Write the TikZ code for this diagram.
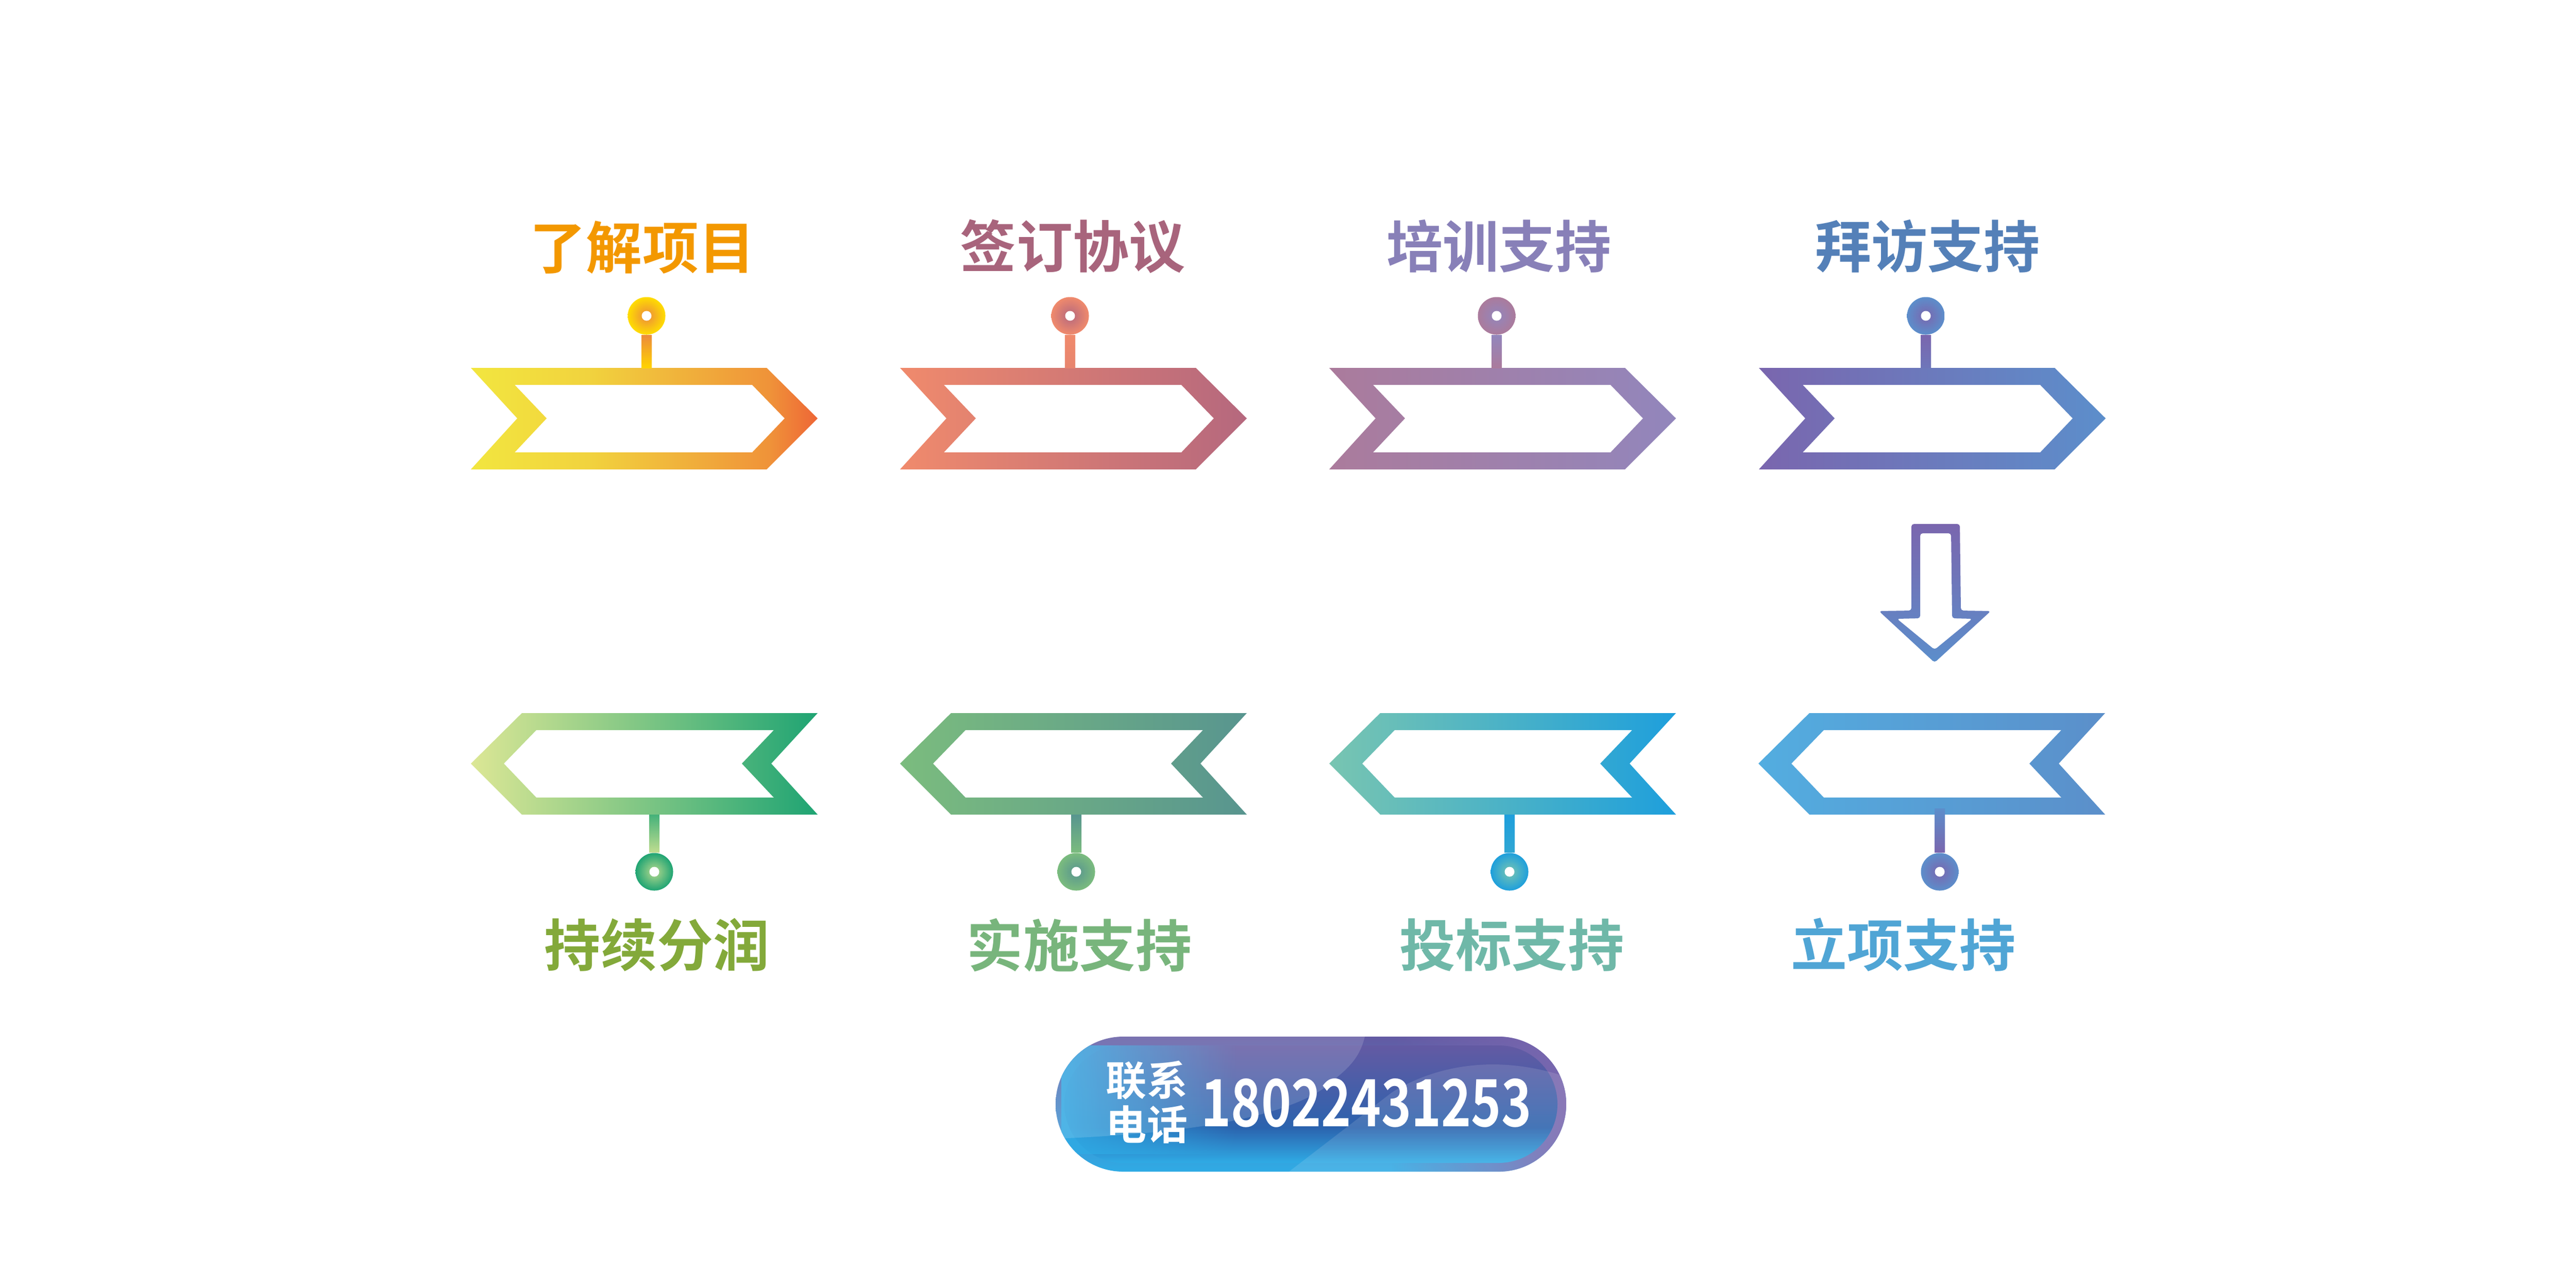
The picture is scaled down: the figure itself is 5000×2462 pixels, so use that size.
\documentclass[tikz,border=0pt]{standalone}
\usepackage{xcolor}
\usepackage{fontspec}
\usetikzlibrary{fadings}
\setmainfont{Noto Sans CJK SC Bold}
\definecolor{flagA}{HTML}{F2E63F}
\definecolor{flagB}{HTML}{EE6636}
\definecolor{flagC}{HTML}{F08A6C}
\definecolor{flagD}{HTML}{B5687E}
\definecolor{flagE}{HTML}{AB7B9C}
\definecolor{flagF}{HTML}{9286BC}
\definecolor{flagG}{HTML}{7A66AE}
\definecolor{flagH}{HTML}{5C8ECB}
\definecolor{flagI}{HTML}{DCE795}
\definecolor{flagJ}{HTML}{1FA473}
\definecolor{flagK}{HTML}{7BBC7E}
\definecolor{flagL}{HTML}{58958F}
\definecolor{flagM}{HTML}{78C5B1}
\definecolor{flagN}{HTML}{1E9FDC}
\definecolor{flagO}{HTML}{53ADE0}
\definecolor{flagP}{HTML}{5B8FCA}
\definecolor{pinyellow}{HTML}{FFDD00}
\definecolor{pinorange}{HTML}{EC8B3C}
\definecolor{pillblue}{HTML}{2FABE5}
\definecolor{pilldark}{HTML}{2B63AE}
\definecolor{pilltop}{HTML}{635AA3}
\pgfdeclarehorizontalshading{flagsun}{100bp}{color(0bp)=(flagA); color(25bp)=(flagA); color(42bp)=(flagA!85!flagB); color(55bp)=(flagA!60!flagB); color(68bp)=(flagA!35!flagB); color(75bp)=(flagB); color(100bp)=(flagB)}
\pgfdeclareverticalshading{pillinner}{100bp}{color(0bp)=(pillblue); color(25bp)=(pillblue); color(40bp)=(pilldark); color(50bp)=(pilldark!70!pilltop); color(75bp)=(pilltop); color(100bp)=(pilltop)}
\tikzset{
  flagfill/.style={even odd rule,shading angle=90},
  pindot/.style={circle,inner sep=0pt,minimum size=.73cm,shade},
  pinhole/.style={circle,inner sep=0pt,minimum size=.19cm,fill=white},
  titletext/.style={inner sep=0pt,font=\fontsize{31}{31}\selectfont}
}
% outline of a flag, x = left edge, y = top edge
\newcommand{\flagright}[2]{(#1,#2) -- (#1+574,#2) -- (#1+673,#2-98) -- (#1+574,#2-197) -- (#1,#2-197) -- (#1+90,#2-98) -- cycle
  (#1+85,#2-33) -- (#1+546,#2-33) -- (#1+609,#2-98) -- (#1+546,#2-164) -- (#1+85,#2-164) -- (#1+147,#2-98) -- cycle}
\newcommand{\flagleft}[2]{(#1+673,#2) -- (#1+99,#2) -- (#1,#2-98) -- (#1+99,#2-197) -- (#1+673,#2-197) -- (#1+583,#2-98) -- cycle
  (#1+588,#2-33) -- (#1+127,#2-33) -- (#1+64,#2-98) -- (#1+127,#2-164) -- (#1+588,#2-164) -- (#1+526,#2-98) -- cycle}
\begin{document}
\begin{tikzpicture}[x=0.01cm,y=0.01cm]
\useasboundingbox (0,0) rectangle (5000,-2462);
\fill [white] (0,0) rectangle (5000,-2462);
% top row
\shade [even odd rule,shading=flagsun] \flagright{914}{-714};
\shade [flagfill,left color=flagC,right color=flagD] \flagright{1747}{-714};
\shade [flagfill,left color=flagE,right color=flagF] \flagright{2580}{-714};
\shade [flagfill,left color=flagG,right color=flagH] \flagright{3414}{-714};
% bottom row
\shade [flagfill,left color=flagI,right color=flagJ] \flagleft{914}{-1384};
\shade [flagfill,left color=flagK,right color=flagL] \flagleft{1747}{-1384};
\shade [flagfill,left color=flagM,right color=flagN] \flagleft{2580}{-1384};
\shade [flagfill,left color=flagO,right color=flagP] \flagleft{3413}{-1384};
% pins
\node [pindot,inner color=pinorange,outer color=pinyellow] (pin1) at (1255,-613) {};
\node [pindot,inner color=flagD,outer color=flagC] (pin2) at (2077,-613) {};
\node [pindot,inner color=flagF,outer color=flagE] (pin3) at (2905,-613) {};
\node [pindot,inner color=flagG,outer color=flagH] (pin4) at (3738,-613) {};
\node [pindot,inner color=flagI!80!flagJ,outer color=flagJ] (pin5) at (1270,-1692) {};
\node [pindot,inner color=flagL,outer color=flagK] (pin6) at (2089,-1692) {};
\node [pindot,inner color=flagM,outer color=flagN] (pin7) at (2930,-1692) {};
\node [pindot,inner color=flagG,outer color=flagH] (pin8) at (3765,-1692) {};
\node [pinhole] (hole1) at (pin1) {};
\node [pinhole] (hole2) at (pin2) {};
\node [pinhole] (hole3) at (pin3) {};
\node [pinhole] (hole4) at (pin4) {};
\node [pinhole] (hole5) at (pin5) {};
\node [pinhole] (hole6) at (pin6) {};
\node [pinhole] (hole7) at (pin7) {};
\node [pinhole] (hole8) at (pin8) {};
\coordinate (foot1) at (1255,-714);
\coordinate (foot2) at (2077,-714);
\coordinate (foot3) at (2905,-714);
\coordinate (foot4) at (3738,-714);
\coordinate (foot5) at (1270,-1581);
\coordinate (foot6) at (2089,-1581);
\coordinate (foot7) at (2930,-1581);
\coordinate (foot8) at (3765,-1569);
\shade [top color=pinorange,bottom color=pinyellow!90!orange] ([xshift=-.1cm]pin1.south) rectangle ([xshift=.1cm]foot1);
\shade [top color=flagC,bottom color=flagC!85!flagD] ([xshift=-.1cm]pin2.south) rectangle ([xshift=.1cm]foot2);
\shade [top color=flagF,bottom color=flagE] ([xshift=-.1cm]pin3.south) rectangle ([xshift=.1cm]foot3);
\shade [top color=flagG,bottom color=flagG!60!flagH] ([xshift=-.1cm]pin4.south) rectangle ([xshift=.1cm]foot4);
\shade [top color=flagJ!80!flagI,bottom color=flagI!85!flagJ] ([xshift=.1cm]foot5) rectangle ([xshift=-.1cm]pin5.north);
\shade [top color=flagL,bottom color=flagK] ([xshift=.1cm]foot6) rectangle ([xshift=-.1cm]pin6.north);
\shade [top color=flagN,bottom color=flagN!80!flagM] ([xshift=.1cm]foot7) rectangle ([xshift=-.1cm]pin7.north);
\shade [top color=flagH,bottom color=flagG] ([xshift=.1cm]foot8) rectangle ([xshift=-.1cm]pin8.north);
% titles
\node [titletext,text={rgb,255:red,243;green,152;blue,0}] (title1) at (1247,-480) {了解项目};
\node [titletext,text={rgb,255:red,168;green,100;blue,124}] (title2) at (2082,-478) {签订协议};
\node [titletext,text={rgb,255:red,136;green,128;blue,184}] (title3) at (2909,-478) {培训支持};
\node [titletext,text={rgb,255:red,84;green,128;blue,184}] (title4) at (3741,-478) {拜访支持};
\node [titletext,text={rgb,255:red,131;green,169;blue,58}] (title5) at (1275,-1834) {持续分润};
\node [titletext,text={rgb,255:red,120;green,181;blue,124}] (title6) at (2095,-1834) {实施支持};
\node [titletext,text={rgb,255:red,111;green,184;blue,168}] (title7) at (2934,-1834) {投标支持};
\node [titletext,text={rgb,255:red,80;green,165;blue,213}] (title8) at (3694,-1834) {立项支持};
% arrow between the rows
\shade [even odd rule,top color=flagG,bottom color=flagH,rounded corners=.05cm]
  (3710,-1017) -- (3804,-1017) -- (3806,-1185) -- (3864,-1186) -- (3755,-1286) -- (3647,-1186) -- (3710,-1185) -- cycle
  (3727,-1035) -- (3787,-1035) -- (3789,-1200) -- (3828,-1201) -- (3755,-1261) -- (3682,-1201) -- (3727,-1200) -- cycle;
% phone pill
\begin{scope}
\clip (2180,-2012) -- (2909,-2012) arc (90:-90:131) -- (2180,-2274) arc (270:90:131) -- cycle;
\shade [top color=pilltop,bottom color=pillblue] (2049,-2012) rectangle (3040,-2274);
\fill [flagG,path fading=west] (2700,-2012) rectangle (3040,-2274);
\shade [shading=pillinner]
  (2180,-2029) -- (2909,-2029) arc (90:-90:114) -- (2180,-2257) arc (270:90:114) -- cycle;
\fill [pillblue,opacity=.9,path fading=east] (2060,-2029) rectangle (2400,-2240);
\fill [white,opacity=.15] (2049,-2012) -- (2649,-2012) .. controls (2640,-2050) and (2620,-2070) .. (2596,-2090)
  .. controls (2520,-2170) and (2300,-2200) .. (2049,-2210) -- cycle;
\fill [white,opacity=.12] (2502,-2274) -- (2702,-2120) .. controls (2800,-2060) and (2920,-2050) .. (3040,-2090) -- (3040,-2274) -- cycle;
\end{scope}
\node [inner sep=0pt,text=white,font=\fontsize{22.5}{22.5}\selectfont] (call1) at (2226,-2097) {联系};
\node [inner sep=0pt,text=white,font=\fontsize{22.5}{22.5}\selectfont] (call2) at (2226,-2183) {电话};
\node [inner sep=0pt,text=white,font=\fontsize{36}{36}\selectfont] (phone) at (2652,-2141) {\scalebox{.78}[1]{18022431253}};
\end{tikzpicture}
\end{document}
